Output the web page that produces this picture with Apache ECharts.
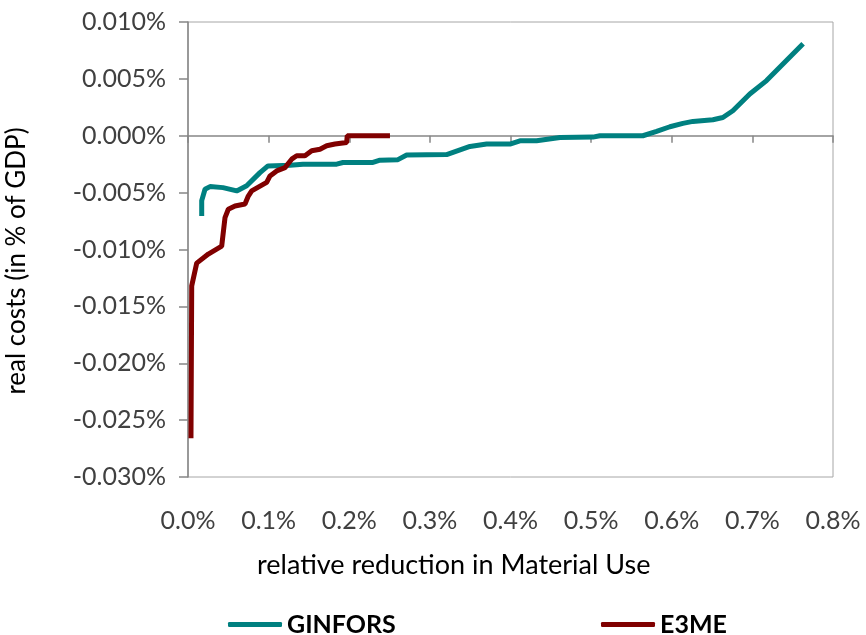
<!DOCTYPE html>
<html><head><meta charset="utf-8">
<script src="https://cdn.jsdelivr.net/npm/echarts@6/dist/echarts.min.js"></script>
<style>html,body{margin:0;padding:0;background:#fff}#c{width:866px;height:635px}</style>
</head><body><div id="c"></div>
<script>
// values in percent
const ginforsX = [0.0170,0.0170,0.0211,0.0273,0.0434,0.0604,0.0728,0.0893,0.0992,0.1265,0.1426,0.1844,0.1922,0.2294,0.2381,0.2604,0.2712,0.3208,0.3497,0.3704,0.3993,0.4117,0.4324,0.4613,0.5022,0.5109,0.5642,0.5812,0.5977,0.6138,0.6262,0.6510,0.6634,0.6758,0.6968,0.7176,0.7629];
const ginforsY = [-0.00705,-0.0057,-0.0047,-0.00447,-0.00456,-0.00485,-0.0044,-0.00324,-0.00265,-0.0026,-0.0025,-0.0025,-0.00235,-0.00235,-0.00215,-0.0021,-0.0017,-0.00165,-0.00094,-0.00073,-0.00073,-0.00044,-0.00044,-0.00015,-0.00012,0,0,0.00038,0.00079,0.00109,0.00126,0.00141,0.0016,0.0022,0.00367,0.00485,0.00809];
const e3meX = [0.0037,0.0046,0.0108,0.0252,0.0418,0.0459,0.0500,0.0583,0.0707,0.0748,0.0790,0.0976,0.1017,0.1100,0.1203,0.1286,0.1348,0.1451,0.1534,0.1637,0.1720,0.1823,0.1968,0.1975,0.2505];
const e3meY = [-0.0266,-0.0132,-0.0112,-0.0104,-0.0097,-0.0072,-0.00646,-0.00617,-0.0060,-0.0053,-0.00485,-0.0041,-0.00353,-0.00309,-0.0028,-0.00206,-0.00176,-0.00176,-0.00132,-0.00118,-0.00088,-0.00073,-0.00059,0,0];
const xTicks = {min:0, max:0.8, interval:0.1};
const yTicks = {min:-0.03, max:0.01, interval:0.005};
const seriesNames = ['GINFORS','E3ME'];
const colors = ['#008080','#800000'];
const xTitle = 'relative reduction in Material Use';
const yTitle = 'real costs (in % of GDP)';

const FONT = 'Lato';
const chart = echarts.init(document.getElementById('c'));
const zip = (a,b)=>a.map((v,i)=>[v,b[i]]);
const legendText = {fontSize:25, fontWeight:'bold', color:'#000', fontFamily:FONT};
chart.setOption({
  animation:false,
  textStyle:{fontFamily:FONT},
  grid:{left:188, top:22, right:33, bottom:158, show:true, borderColor:'#a6a6a6', borderWidth:1},
  xAxis:[
    {type:'value', min:xTicks.min, max:xTicks.max, interval:xTicks.interval, position:'bottom',
     axisLine:{show:false, onZero:false}, axisTick:{show:false}, splitLine:{show:false},
     axisLabel:{margin:31, fontSize:25, color:'#404040', fontFamily:FONT, formatter:v=>v.toFixed(1)+'%'}},
    {type:'value', min:xTicks.min, max:xTicks.max, interval:xTicks.interval, position:'bottom',
     axisLine:{show:true, onZero:true, lineStyle:{color:'#868686', width:1.5}},
     axisTick:{show:true, length:7, lineStyle:{color:'#868686', width:1.5}},
     axisLabel:{show:false}, splitLine:{show:false}}
  ],
  yAxis:{type:'value', min:yTicks.min, max:yTicks.max, interval:yTicks.interval,
    axisLine:{show:true, lineStyle:{color:'#868686', width:1.5}},
    axisTick:{show:true, length:9, lineStyle:{color:'#868686', width:1.5}},
    splitLine:{show:false},
    axisLabel:{margin:22, fontSize:25, color:'#404040', fontFamily:FONT, formatter:v=>v.toFixed(3)+'%'}},
  graphic:[
    {type:'text', x:257, y:565, style:{text:xTitle, fontSize:27, fill:'#000', fontFamily:FONT, textAlign:'left', textVerticalAlign:'middle'}},
    {type:'text', x:17, y:261, rotation:Math.PI/2, style:{text:yTitle, fontSize:26, fill:'#000', fontFamily:FONT, textAlign:'center', textVerticalAlign:'middle'}}
  ],
  legend:[
    {data:[{name:seriesNames[0], icon:'roundRect'}], left:228, top:612, padding:0, itemWidth:54, itemHeight:5, itemGap:4, textStyle:legendText},
    {data:[{name:seriesNames[1], icon:'roundRect'}], left:601, top:612, padding:0, itemWidth:54, itemHeight:5, itemGap:4, textStyle:legendText}
  ],
  series:[
    {name:seriesNames[0], type:'line', data:zip(ginforsX,ginforsY), showSymbol:false, symbol:'none',
     lineStyle:{color:colors[0], width:5}, itemStyle:{color:colors[0]}, xAxisIndex:0},
    {name:seriesNames[1], type:'line', data:zip(e3meX,e3meY), showSymbol:false, symbol:'none',
     lineStyle:{color:colors[1], width:5}, itemStyle:{color:colors[1]}, xAxisIndex:0}
  ]
});
</script></body></html>
